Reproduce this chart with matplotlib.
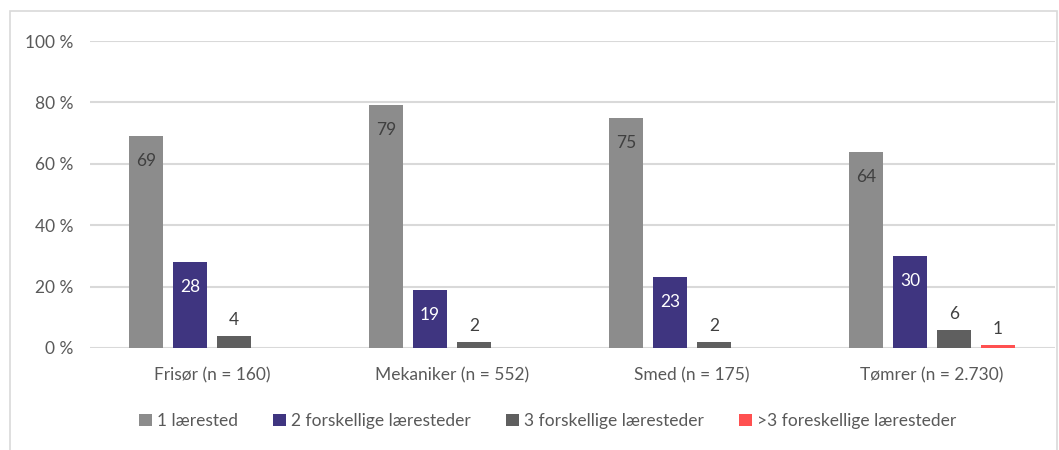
import matplotlib.pyplot as plt
import numpy as np
from matplotlib.patches import Rectangle

plt.rcParams['font.family'] = ['Lato', 'DejaVu Sans']

categories = ['Frisør (n = 160)', 'Mekaniker (n = 552)', 'Smed (n = 175)', 'Tømrer (n = 2.730)']
series_names = ['1 lærested', '2 forskellige læresteder', '3 forskellige læresteder',
                '>3 foreskellige læresteder']
one_place = [69, 79, 75, 64]
two_places = [28, 19, 23, 30]
three_places = [4, 2, 2, 6]
more_places = [0, 0, 0, 1]

colors = ['#8c8c8c', '#3f3580', '#5f5f5f', '#ff5050']
label_colors = ['#404040', 'white', '#404040', '#404040']
inside = [True, True, False, False]

fig = plt.figure(figsize=(10.59, 4.5), dpi=100)
ax = fig.add_axes([90 / 1059, 1 - 348 / 450, 965 / 1059, 307 / 450])

# light frame around the chart
fig.patches.append(Rectangle((10 / 1059, -0.1), 1047 / 1059, 1.1 - 11 / 450,
                             transform=fig.transFigure, fill=False,
                             edgecolor='#d9d9d9', lw=1.2))

x = np.arange(len(categories))
width = 0.142
step = 0.183
all_series = [one_place, two_places, three_places, more_places]

fs = 12.5
for i, vals in enumerate(all_series):
    pos = x + (i - 1.5) * step
    bars = ax.bar(pos, vals, width, color=colors[i], label=series_names[i], zorder=3)
    for b, v in zip(bars, vals):
        if v == 0:
            continue
        cx = b.get_x() + b.get_width() / 2
        off = -25 if inside[i] else 16
        ax.annotate(str(v), (cx, v), xytext=(0, off), textcoords='offset pixels',
                    ha='center', va='center', fontsize=fs, color=label_colors[i])

left = -0.5 - 2 / 240
ax.set_xlim(left, left + 965 / 240)
ax.set_ylim(0, 100)
ax.set_yticks(range(0, 101, 20))
ax.set_yticklabels([f'{t} %' for t in range(0, 101, 20)])
ax.set_xticks(x)
ax.set_xticklabels(categories)
ax.tick_params(axis='both', length=0, labelsize=fs, colors='#595959')
ax.tick_params(axis='y', pad=12)
ax.tick_params(axis='x', pad=14)
ax.grid(axis='y', color='#d9d9d9', lw=1.5, zorder=0)
for s in ax.spines.values():
    s.set_visible(False)

fig.legend(loc='center', bbox_to_anchor=(0.517, 1 - 421 / 450), ncol=4, frameon=False,
           fontsize=fs, handlelength=0.75, handleheight=0.75, handletextpad=0.3,
           columnspacing=2.0, labelcolor='#595959')

fig.savefig('out.png', dpi=100)
